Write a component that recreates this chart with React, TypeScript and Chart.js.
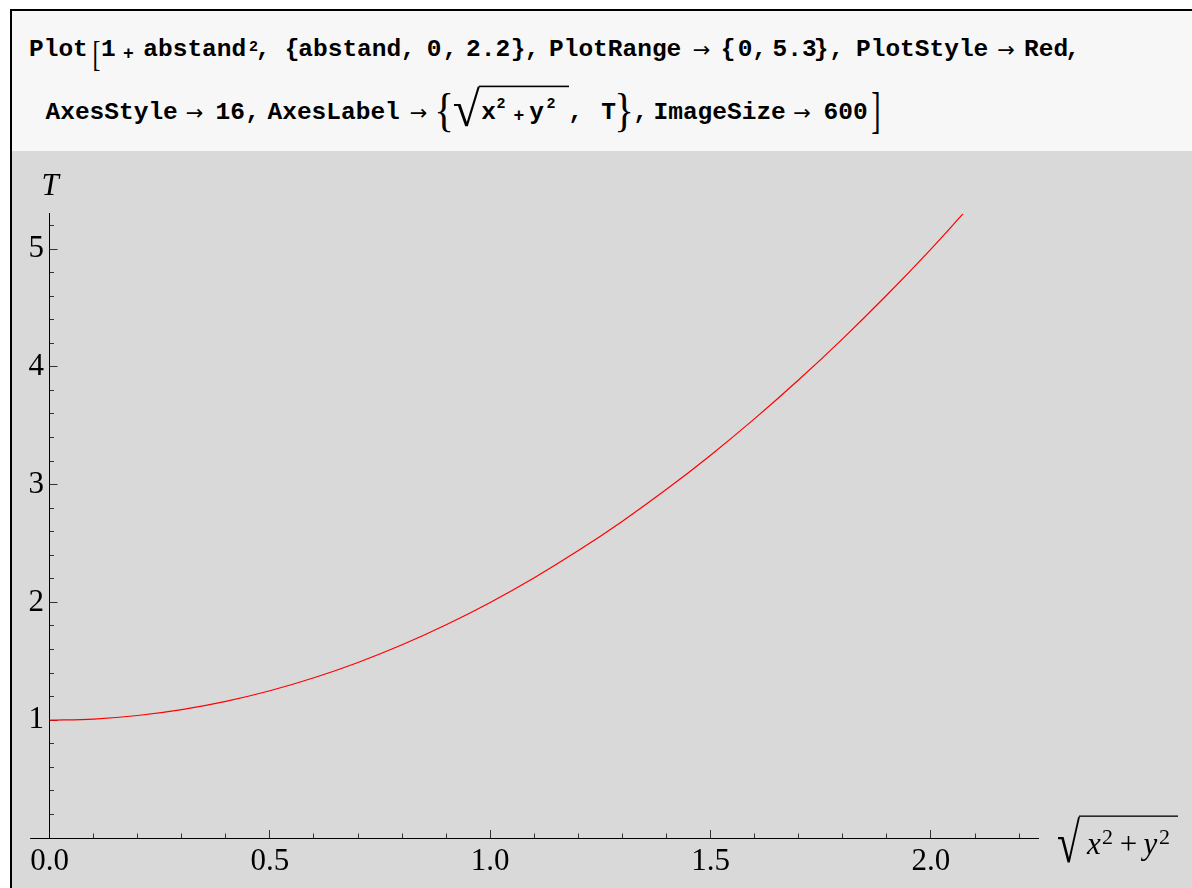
import React, { useEffect, useRef } from 'react';
import { Chart, registerables } from 'chart.js';

Chart.register(...registerables);

// ---------- data ----------
const curveX = [0, 0.1, 0.2, 0.3, 0.4, 0.5, 0.6, 0.7, 0.8, 0.9, 1.0, 1.1, 1.2, 1.3, 1.4, 1.5, 1.6, 1.7, 1.8, 1.9, 2.0, 2.073];
const curveY = [1.0, 1.01, 1.04, 1.09, 1.16, 1.25, 1.36, 1.49, 1.64, 1.81, 2.0, 2.21, 2.44, 2.69, 2.96, 3.25, 3.56, 3.89, 4.24, 4.61, 5.0, 5.3];

const xMajorTicks = [0, 0.5, 1.0, 1.5, 2.0];
const xMinorTicks = [0.1, 0.2, 0.3, 0.4, 0.6, 0.7, 0.8, 0.9, 1.1, 1.2, 1.3, 1.4, 1.6, 1.7, 1.8, 1.9, 2.1, 2.2];
const yMajorTicks = [1, 2, 3, 4, 5];
const yMinorTicks = [0.2, 0.4, 0.6, 0.8, 1.2, 1.4, 1.6, 1.8, 2.2, 2.4, 2.6, 2.8, 3.2, 3.4, 3.6, 3.8, 4.2, 4.4, 4.6, 4.8, 5.2];

const xAxisStart = -0.044;
const xAxisEnd = 2.244;
const yMin = 0;
const yMax = 5.3;

const yAxisLabel = 'T';

// ---------- fonts ----------
const SERIF = '"Liberation Serif", "Times New Roman", serif';
const MONO = '"Liberation Mono", "Courier New", monospace';
const SANS = '"DejaVu Sans", sans-serif';

type Ink = { l: number; r: number; t: number; b: number };
function measureInk(text: string, font: string): Ink {
  const c = document.createElement('canvas').getContext('2d')!;
  c.font = font;
  c.textAlign = 'left';
  c.textBaseline = 'alphabetic';
  const m = c.measureText(text);
  return { l: -m.actualBoundingBoxLeft, r: m.actualBoundingBoxRight, t: -m.actualBoundingBoxAscent, b: m.actualBoundingBoxDescent };
}

function drawFitted(ctx: CanvasRenderingContext2D, text: string, font: string, x0: number, y0: number, x1: number, y1: number) {
  ctx.save();
  ctx.font = font;
  ctx.textAlign = 'left';
  ctx.textBaseline = 'alphabetic';
  const m = ctx.measureText(text);
  const l = -m.actualBoundingBoxLeft, r = m.actualBoundingBoxRight;
  const t = -m.actualBoundingBoxAscent, b = m.actualBoundingBoxDescent;
  const sx = (x1 - x0) / (r - l), sy = (y1 - y0) / (b - t);
  ctx.translate(x0 - l * sx, y0 - t * sy);
  ctx.scale(sx, sy);
  ctx.fillText(text, 0, 0);
  ctx.restore();
}

// ---------- SVG helpers for the input cell ----------
function FitGlyph(props: { text: string; size: number; box: [number, number, number, number] }) {
  const { text, size, box } = props;
  const ink = measureInk(text, `${size}px ${SERIF}`);
  const [x0, y0, x1, y1] = box;
  const sx = (x1 - x0) / (ink.r - ink.l);
  const sy = (y1 - y0) / (ink.b - ink.t);
  const tx = x0 - ink.l * sx;
  const ty = y0 - ink.t * sy;
  return (
    <text transform={`translate(${tx} ${ty}) scale(${sx} ${sy})`} fontFamily={SERIF} fontSize={size} fill="#000">
      {text}
    </text>
  );
}

function W(props: { x: number; y: number; a?: 'start' | 'middle' | 'end'; size?: number; children: React.ReactNode }) {
  return (
    <text x={props.x} y={props.y} textAnchor={props.a || 'start'} fontFamily={MONO} fontWeight={700} fontSize={props.size || 24.5} fill="#000">
      {props.children}
    </text>
  );
}

function Arrow(props: { x: number; y: number }) {
  return (
    <text x={props.x} y={props.y} textAnchor="middle" fontFamily={SANS} fontSize={21} fill="#000">
      →
    </text>
  );
}

function InputCell() {
  const L1 = 56;
  const L2 = 119;
  return (
    <g>
      {/* line 1 */}
      <W x={29} y={L1}>Plot</W>
      <FitGlyph text="[" size={32} box={[94, 40, 100, 70]} />
      <W x={101} y={L1}>1</W>
      <W x={128.5} y={59} a="middle" size={18}>+</W>
      <W x={143.3} y={L1}>abstand</W>
      <W x={249} y={51} size={15}>2</W>
      <W x={263} y={L1} a="middle">,</W>
      <W x={292} y={L1} a="middle">{'{'}</W>
      <W x={298.3} y={L1}>abstand</W>
      <W x={408} y={L1} a="middle">,</W>
      <W x={434} y={L1} a="middle">0</W>
      <W x={450} y={L1} a="middle">,</W>
      <W x={466} y={L1}>2.2</W>
      <W x={518} y={L1} a="middle">{'}'}</W>
      <W x={532} y={L1} a="middle">,</W>
      <W x={549} y={L1}>PlotRange</W>
      <Arrow x={701.5} y={L1 + 1} />
      <W x={728} y={L1} a="middle">{'{'}</W>
      <W x={745} y={L1} a="middle">0</W>
      <W x={759.5} y={L1} a="middle">,</W>
      <W x={772.5} y={L1}>5.3</W>
      <W x={821} y={L1} a="middle">{'}'}</W>
      <W x={836.5} y={L1} a="middle">,</W>
      <W x={856} y={L1}>PlotStyle</W>
      <Arrow x={1006} y={L1 + 1} />
      <W x={1024} y={L1}>Red</W>
      <W x={1072.5} y={L1} a="middle">,</W>

      {/* line 2 */}
      <W x={45.5} y={L2}>AxesStyle</W>
      <Arrow x={194.5} y={L2 + 0.5} />
      <W x={215.5} y={L2}>16</W>
      <W x={252.5} y={L2} a="middle">,</W>
      <W x={267.5} y={L2}>AxesLabel</W>
      <Arrow x={418.5} y={L2 + 0.5} />
      <FitGlyph text="{" size={44} box={[438, 93, 451, 133]} />
      <FitGlyph text="√" size={40} box={[454, 86, 480, 127]} />
      <rect x={479} y={85.6} width={90} height={1.6} fill="#000" />
      <W x={488.5} y={L2} a="middle">x</W>
      <W x={496.5} y={108} size={15}>2</W>
      <W x={518.8} y={121} a="middle" size={18}>+</W>
      <W x={536.5} y={L2} a="middle">y</W>
      <W x={546.5} y={108} size={15}>2</W>
      <W x={575.5} y={L2} a="middle">,</W>
      <W x={608.5} y={L2} a="middle">T</W>
      <FitGlyph text="}" size={44} box={[618, 93, 631, 133]} />
      <W x={640.5} y={L2} a="middle">,</W>
      <W x={653.5} y={L2}>ImageSize</W>
      <Arrow x={802} y={L2 + 0.5} />
      <W x={823.5} y={L2}>600</W>
      <FitGlyph text="]" size={44} box={[872, 92, 879, 134]} />
    </g>
  );
}

// ---------- chart plugin: axis extension + axis labels ----------
const axisDecor = {
  id: 'axisDecor',
  afterDraw(chart: any) {
    const { ctx, chartArea, scales } = chart;
    const xs = scales.x;
    const ys = scales.y;
    const y0 = Math.round(ys.getPixelForValue(0) - 0.5) + 0.5;
    const x0 = xs.getPixelForValue(0);
    const xStart = xs.getPixelForValue(xAxisStart);
    ctx.save();
    ctx.strokeStyle = '#000';
    ctx.lineWidth = 1;
    ctx.beginPath();
    ctx.moveTo(xStart, y0);
    ctx.lineTo(chartArea.left, y0);
    ctx.stroke();

    ctx.fillStyle = '#000';
    // T label above the vertical axis
    ctx.font = `italic 31px ${SERIF}`;
    ctx.textAlign = 'center';
    ctx.textBaseline = 'alphabetic';
    ctx.fillText(yAxisLabel, x0 + 0.5, chartArea.top - 18.7);

    // sqrt(x^2 + y^2) label right of the horizontal axis
    const ax = chartArea.right;
    const ay = y0;
    drawFitted(ctx, '√', `31px ${SERIF}`, ax + 18.5, ay - 23, ax + 41.5, ay + 25);
    ctx.fillRect(ax + 40.5, ay - 23, 99, 1.3);
    ctx.textAlign = 'left';
    ctx.font = `italic 31px ${SERIF}`;
    ctx.fillText('x', ax + 48.5, ay + 15);
    ctx.font = `22px ${SERIF}`;
    ctx.fillText('2', ax + 63.5, ay + 5);
    ctx.font = `31px ${SERIF}`;
    ctx.textAlign = 'center';
    ctx.fillText('+', ax + 90, ay + 15);
    ctx.textAlign = 'left';
    ctx.font = `italic 31px ${SERIF}`;
    ctx.fillText('y', ax + 105, ay + 15);
    ctx.font = `22px ${SERIF}`;
    ctx.fillText('2', ax + 120.5, ay + 5);
    ctx.restore();
  },
};

function PlotCanvas() {
  const ref = useRef<HTMLCanvasElement | null>(null);
  useEffect(() => {
    if (!ref.current) return;
    const tickFont = { family: SERIF, size: 31, lineHeight: 1.2 };
    const chart = new Chart(ref.current, {
      type: 'line',
      data: {
        datasets: [
          {
            data: curveX.map((x, i) => ({ x, y: curveY[i] })),
            borderColor: '#ff0000',
            borderWidth: 1.2,
            pointRadius: 0,
            fill: false,
            cubicInterpolationMode: 'monotone',
          },
        ],
      },
      options: {
        animation: false,
        responsive: false,
        maintainAspectRatio: false,
        events: [],
        layout: { padding: { left: 0, top: 62.7, right: 153.5, bottom: 0 } },
        plugins: { legend: { display: false }, tooltip: { enabled: false }, title: { display: false } },
        scales: {
          x: {
            type: 'linear',
            axis: 'x',
            position: 'bottom',
            weight: 0,
            min: 0,
            max: xAxisEnd,
            afterBuildTicks: (s: any) => { s.ticks = xMajorTicks.map((v) => ({ value: v })); },
            afterFit: (s: any) => { s.height = 50; },
            ticks: {
              autoSkip: false,
              maxRotation: 0,
              padding: 13.1,
              color: '#000',
              font: tickFont,
              callback: (v: any) => Number(v).toFixed(1),
            },
            grid: { display: true, drawOnChartArea: false, drawTicks: true, tickLength: -8, color: '#000', tickColor: '#333', tickWidth: 1 },
            border: { display: true, color: '#000', width: 1 },
          },
          xMinor: {
            type: 'linear',
            axis: 'x',
            position: 'bottom',
            weight: -1,
            min: 0,
            max: xAxisEnd,
            afterBuildTicks: (s: any) => { s.ticks = xMinorTicks.map((v) => ({ value: v })); },
            afterFit: (s: any) => { s.height = 0; },
            ticks: { display: false },
            grid: { display: true, drawOnChartArea: false, drawTicks: true, tickLength: -4.5, color: '#333', tickColor: '#333', tickWidth: 1 },
            border: { display: false },
          },
          y: {
            type: 'linear',
            axis: 'y',
            position: 'left',
            weight: 0,
            min: yMin,
            max: yMax,
            afterBuildTicks: (s: any) => { s.ticks = yMajorTicks.map((v) => ({ value: v })); },
            afterFit: (s: any) => { s.width = 37.5; },
            ticks: {
              autoSkip: false,
              padding: 13.5,
              color: '#000',
              font: tickFont,
              callback: (v: any) => String(v),
            },
            grid: { display: true, drawOnChartArea: false, drawTicks: true, tickLength: -8, color: '#000', tickColor: '#333', tickWidth: 1 },
            border: { display: true, color: '#000', width: 1 },
          },
          yMinor: {
            type: 'linear',
            axis: 'y',
            position: 'left',
            weight: -1,
            min: yMin,
            max: yMax,
            afterBuildTicks: (s: any) => { s.ticks = yMinorTicks.map((v) => ({ value: v })); },
            afterFit: (s: any) => { s.width = 0; },
            ticks: { display: false },
            grid: { display: true, drawOnChartArea: false, drawTicks: true, tickLength: -4.5, color: '#333', tickColor: '#333', tickWidth: 1 },
            border: { display: false },
          },
        },
      } as any,
      plugins: [axisDecor],
    });
    return () => chart.destroy();
  }, []);
  return <canvas ref={ref} width={1180} height={737} style={{ display: 'block', width: 1180, height: 737 }} />;
}

export default function App() {
  return (
    <div style={{ position: 'fixed', left: 0, top: 0, width: 1192, height: 888, background: '#ffffff', overflow: 'hidden' }}>
      <svg width={1192} height={888} style={{ position: 'absolute', left: 0, top: 0 }}>
        <rect x={12} y={11} width={1180} height={140} fill="#f7f7f7" />
        <rect x={10} y={9} width={1182} height={2} fill="#000" />
        <rect x={10} y={9} width={2} height={879} fill="#000" />
        <InputCell />
      </svg>
      <div style={{ position: 'absolute', left: 12, top: 151, width: 1180, height: 737, background: '#d9d9d9' }}>
        <PlotCanvas />
      </div>
    </div>
  );
}
